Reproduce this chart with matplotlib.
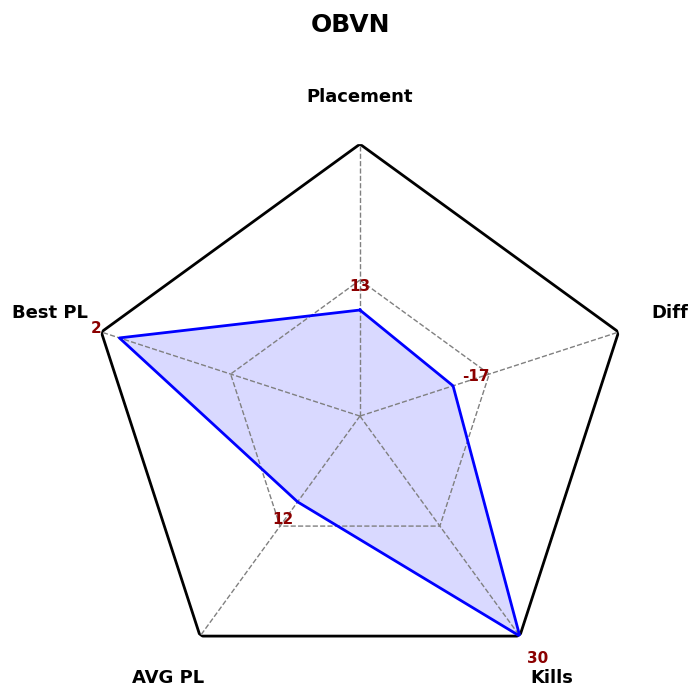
import numpy as np
import matplotlib.pyplot as plt

team = "OBVN"
categories = ["Placement", "Diff", "Kills", "AVG PL", "Best PL"]
raw_values = [13, -17, 30, 12, 2]
scaled_values = [0.39, 0.36, 1.0, 0.39, 0.93]
label_radius = [0.47, 0.45, 1.11, 0.48, 1.02]

n = len(categories)
angles = np.linspace(0, 2 * np.pi, n, endpoint=False)
closed = np.append(angles, angles[0])

fig = plt.figure(figsize=(7, 7), dpi=100)
ax = fig.add_axes([0.1257, 0.0171, 0.777, 0.777], polar=True)
ax.set_theta_offset(np.pi / 2)
ax.set_theta_direction(-1)
ax.set_ylim(0, 1)
ax.axis("off")

# outer frame and middle ring
ax.plot(closed, np.ones(n + 1), color="black", lw=2)
ax.plot(closed, np.full(n + 1, 0.5), color="gray", lw=1, ls="--")
for a in angles:
    ax.plot([a, a], [0, 1], color="gray", lw=1, ls="--")

vals = np.append(scaled_values, scaled_values[0])
ax.fill(closed, vals, color="blue", alpha=0.15, lw=0)
ax.plot(closed, vals, color="blue", lw=2)

for a, name in zip(angles, categories):
    r = 1.165 if name == "Placement" else 1.2
    ax.annotate(name, xy=(a, r), xytext=(0, 2), textcoords="offset pixels",
                ha="center", va="center", fontsize=13, fontweight="bold",
                annotation_clip=False)

for a, v, r in zip(angles, raw_values, label_radius):
    ax.annotate(str(v), xy=(a, r), xytext=(0, 2), textcoords="offset pixels",
                ha="center", va="center", fontsize=11, fontweight="bold",
                color="darkred", annotation_clip=False)

fig.suptitle(team, fontsize=18, fontweight="bold", y=0.981)
fig.savefig("out.png", dpi=100)
